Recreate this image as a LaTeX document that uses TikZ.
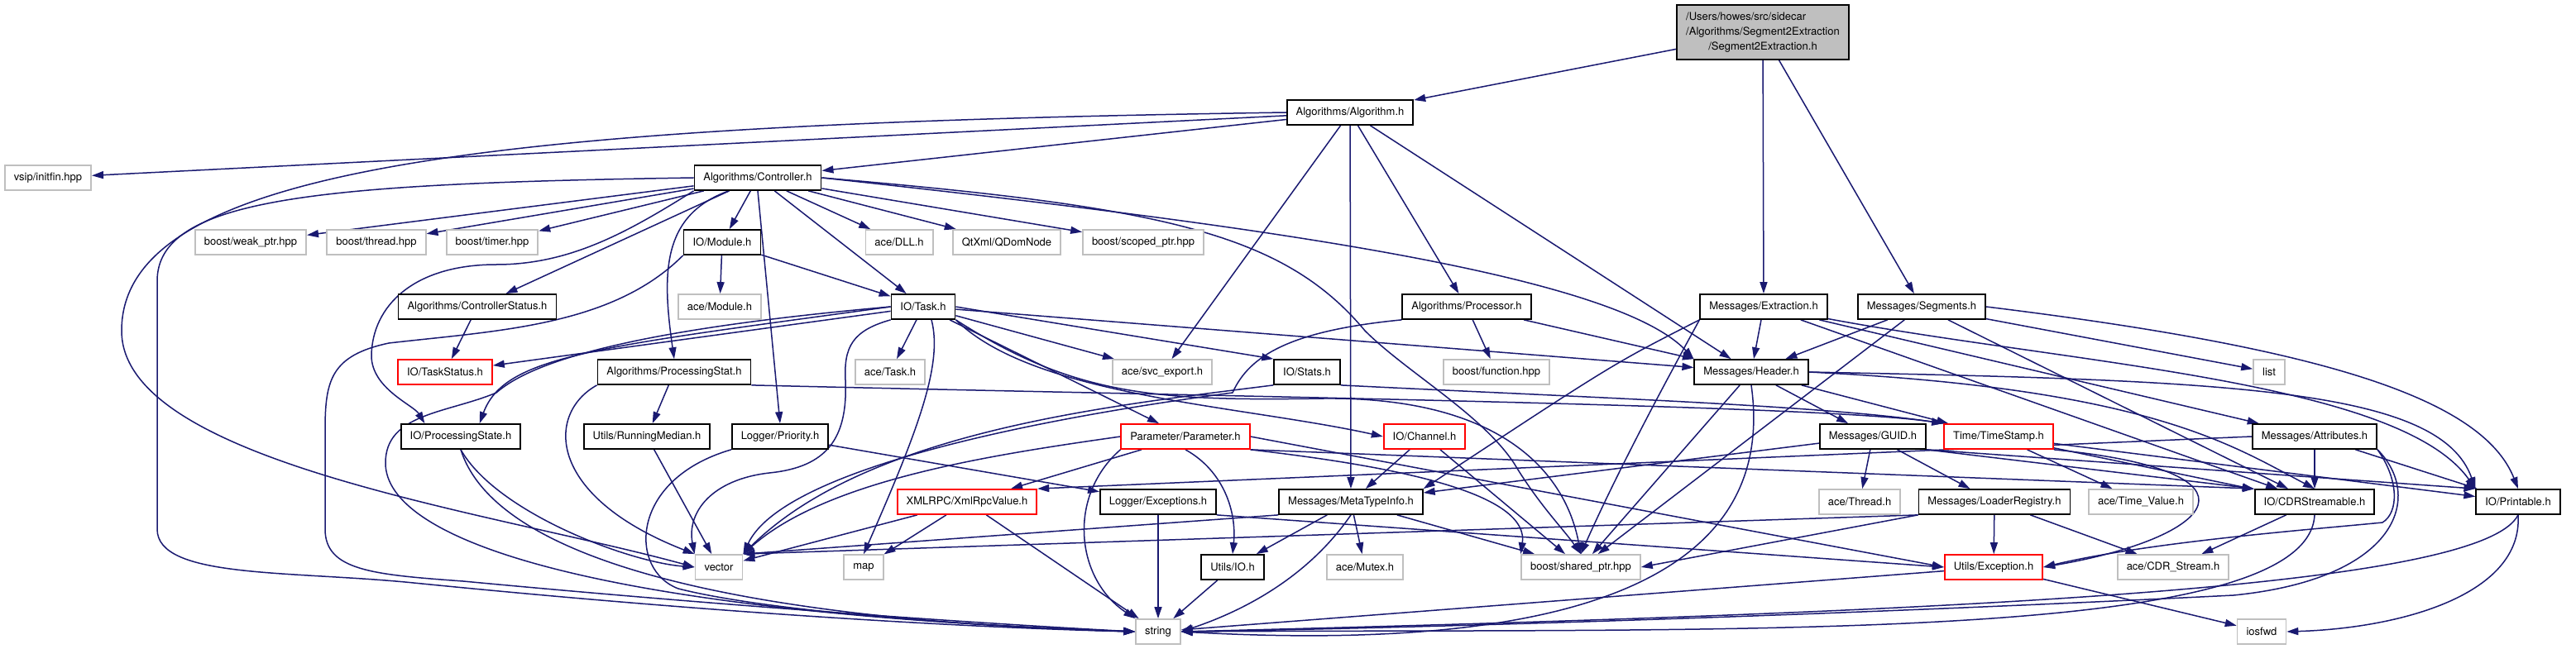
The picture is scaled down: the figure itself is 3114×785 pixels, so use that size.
\documentclass[tikz,border=0pt]{standalone}
\usepackage{fontspec}
\setmainfont{TeX Gyre Heros}
\usetikzlibrary{arrows.meta,backgrounds}
\definecolor{edgeblue}{RGB}{25,25,112}
\definecolor{extgray}{RGB}{191,191,191}

\begin{document}
\begin{tikzpicture}[
  x=0.2mm, y=-0.2mm,
  hbox/.style={draw, fill=white, line width=0.35mm, minimum height=6mm, inner ysep=0pt, inner xsep=2.2mm, font=\fontsize{7.4}{10.4}\selectfont},
  extbox/.style={hbox, draw=extgray},
  redbox/.style={hbox, draw=red},
  topbox/.style={hbox, fill=extgray, minimum height=13.2mm},
  arr/.style={draw=edgeblue, line width=0.3mm, -{Triangle[length=2.8mm,width=1.8mm]}}
]
\useasboundingbox (0,0) rectangle (3114,785);

% header files, row by row
\node[topbox] (top) at (2131,39) {\begin{tabular}{@{}l@{}}/Users/howes/src/sidecar\\/Algorithms/Segment2Extraction\\\multicolumn{1}{@{}c@{}}{/Segment2Extraction.h}\end{tabular}};
\node[hbox] (alg) at (1632,136) {Algorithms/Algorithm.h};
\node[extbox] (vsip) at (58,215) {vsip/initfin.hpp};
\node[hbox] (ctrl) at (916,215) {Algorithms/Controller.h};
\node[extbox] (weak) at (303,293) {boost/weak\_ptr.hpp};
\node[extbox] (thread) at (455,293) {boost/thread.hpp};
\node[extbox] (timer) at (595,293) {boost/timer.hpp};
\node[hbox] (module) at (873,293) {IO/Module.h};
\node[extbox] (dll) at (1087,293) {ace/DLL.h};
\node[extbox] (qdom) at (1217,293) {QtXml/QDomNode};
\node[extbox] (scoped) at (1382,293) {boost/scoped\_ptr.hpp};
\node[hbox] (ctrlstat) at (577,371) {Algorithms/ControllerStatus.h};
\node[extbox] (acemod) at (870,371) {ace/Module.h};
\node[hbox] (task) at (1116,371) {IO/Task.h};
\node[hbox] (proc) at (1773,371) {Algorithms/Processor.h};
\node[hbox] (extr) at (2132,371) {Messages/Extraction.h};
\node[hbox] (segs) at (2323,371) {Messages/Segments.h};
\node[redbox] (taskstat) at (538,450) {IO/TaskStatus.h};
\node[hbox] (pstat) at (815,450) {Algorithms/ProcessingStat.h};
\node[extbox] (acetask) at (1076,450) {ace/Task.h};
\node[extbox] (svc) at (1405,450) {ace/svc\_export.h};
\node[hbox] (stats) at (1580,450) {IO/Stats.h};
\node[extbox] (func) at (1809,450) {boost/function.hpp};
\node[hbox] (header) at (2117,450) {Messages/Header.h};
\node[extbox] (list) at (2743,450) {list};
\node[hbox] (pstate) at (557,528) {IO/ProcessingState.h};
\node[hbox] (rmed) at (782,528) {Utils/RunningMedian.h};
\node[hbox] (prio) at (943,528) {Logger/Priority.h};
\node[redbox] (param) at (1433,528) {Parameter/Parameter.h};
\node[redbox] (chan) at (1722,528) {IO/Channel.h};
\node[hbox] (guid) at (2264,528) {Messages/GUID.h};
\node[redbox] (tstamp) at (2416,528) {Time/TimeStamp.h};
\node[hbox] (attr) at (2798,528) {Messages/Attributes.h};
\node[redbox] (xml) at (1169,607) {XMLRPC/XmlRpcValue.h};
\node[hbox] (lexc) at (1400,607) {Logger/Exceptions.h};
\node[hbox] (meta) at (1633,607) {Messages/MetaTypeInfo.h};
\node[extbox] (thr) at (2248,607) {ace/Thread.h};
\node[hbox] (loader) at (2411,607) {Messages/LoaderRegistry.h};
\node[extbox] (tval) at (2588,607) {ace/Time\_Value.h};
\node[hbox] (cdr) at (2798,607) {IO/CDRStreamable.h};
\node[hbox] (print) at (3044,607) {IO/Printable.h};
\node[extbox] (vector) at (869,686) {vector};
\node[extbox] (map) at (1044,686) {map};
\node[hbox] (uio) at (1490,686) {Utils/IO.h};
\node[extbox] (mutex) at (1650,686) {ace/Mutex.h};
\node[extbox] (shptr) at (1911,686) {boost/shared\_ptr.hpp};
\node[redbox] (uexc) at (2410,686) {Utils/Exception.h};
\node[extbox] (cdrs) at (2627,686) {ace/CDR\_Stream.h};
\node[extbox] (string) at (1400,764) {string};
\node[extbox] (iosfwd) at (2734,764) {iosfwd};

\begin{scope}[on background layer]
% top file
\draw[arr] (top) -- (alg);
\draw[arr] (top) -- (extr);
\draw[arr] (top) -- (segs);
% Algorithm.h
\draw[arr] (alg) -- (vsip);
\draw[arr] (alg) -- (ctrl);
\draw[arr] (alg) -- (svc);
\draw[arr] (alg) -- (meta);
\draw[arr] (alg) -- (proc);
\draw[arr] (alg) -- (header);
\draw[arr] (alg.west) .. controls (600,150) and (147,200) .. (147,400) .. controls (147,560) and (600,620) .. (vector.west);
% Controller.h
\draw[arr] (ctrl) -- (weak);
\draw[arr] (ctrl) -- (thread);
\draw[arr] (ctrl) -- (timer);
\draw[arr] (ctrl) -- (module);
\draw[arr] (ctrl) -- (dll);
\draw[arr] (ctrl) -- (qdom);
\draw[arr] (ctrl) -- (scoped);
\draw[arr] (ctrl) -- (task);
\draw[arr] (ctrl) -- (ctrlstat);
\draw[arr] (ctrl.south) -- (prio.north);
\draw[arr] ([xshift=-7mm]ctrl.south) .. controls (800,260) and (800,330) .. (pstat.north);
\draw[arr] (ctrl.south west) .. controls (760,280) and (690,320) .. (600,320) .. controls (500,320) and (450,370) .. (449,430) .. controls (449,470) and (500,490) .. (pstate.160);
\draw[arr] (ctrl.west) .. controls (380,222) and (190,240) .. (190,340) -- (190,640) .. controls (190,700) and (350,690) .. (500,705) .. controls (900,745) and (1200,760) .. (string.west);
\draw[arr] (ctrl.east) .. controls (1500,270) and (1950,330) .. (header.north west);
\draw[arr] (ctrl.east) .. controls (1400,250) and (1550,280) .. (1650,400) .. controls (1700,450) and (1790,500) .. (1830,560) .. controls (1860,610) and (1890,640) .. (shptr.north);
% IO/Module.h
\draw[arr] (module) -- (acemod);
\draw[arr] (module) -- (task);
\draw[arr] (module.south west) .. controls (740,395) and (600,400) .. (470,415) .. controls (400,430) and (393,460) .. (393,520) -- (393,640) .. controls (393,690) and (450,695) .. (560,703) .. controls (900,735) and (1200,755) .. (string.west);
\draw[arr] (ctrlstat) -- (taskstat);
% IO/Task.h
\draw[arr] (task) -- (taskstat);
\draw[arr] (task) -- (acetask);
\draw[arr] (task) -- (param);
\draw[arr] (task) -- (svc);
\draw[arr] (task.east) -- (stats.north west);
\draw[arr] (task) -- (header);
\draw[arr] (task.west) .. controls (720,420) and (610,430) .. (pstate.35);
\draw[arr] (task.west) .. controls (750,400) and (640,440) .. (600,475) .. controls (540,500) and (466,500) .. (466,560) .. controls (466,650) and (700,740) .. (string.west);
\draw[arr] (task.south west) .. controls (1030,400) and (1020,420) .. (1022,460) .. controls (1025,530) and (1000,565) .. (930,572) .. controls (860,580) and (830,620) .. (vector.north west);
\draw[arr] ([xshift=2mm]task.south) .. controls (1140,440) and (1110,520) .. (map.north);
\draw[arr] (task.south east) .. controls (1250,480) and (1500,490) .. (chan.west);
\draw[arr] (task.south east) .. controls (1300,480) and (1400,485) .. (1600,482) .. controls (1800,480) and (1890,560) .. (shptr.north);
% Algorithms/Processor.h
\draw[arr] (proc) -- (func);
\draw[arr] (proc) -- (header);
\draw[arr] (proc.south west) .. controls (1560,400) and (1510,430) .. (1490,475) .. controls (1300,500) and (950,560) .. (vector.north east);
% Messages/Extraction.h
\draw[arr] (extr) -- (header);
\draw[arr] (extr) -- (attr);
\draw[arr] (extr) -- (cdr);
\draw[arr] (extr.south west) .. controls (1950,440) .. (meta.north east);
\draw[arr] (extr.south west) .. controls (2020,450) and (1960,560) .. (shptr.north);
\draw[arr] (extr) .. controls (2500,440) and (2900,460) .. (print.north west);
% Messages/Segments.h
\draw[arr] (segs) -- (header);
\draw[arr] (segs) -- (list);
\draw[arr] (segs) -- (cdr);
\draw[arr] (segs) -- (shptr);
\draw[arr] (segs.east) .. controls (2800,420) and (3000,480) .. (print.north);
% Algorithms/ProcessingStat.h and IO/Stats.h
\draw[arr] (pstat) -- (rmed);
\draw[arr] (pstat.south west) .. controls (660,500) and (660,600) .. (vector.north west);
\draw[arr] (pstat.south east) .. controls (1500,480) and (2200,490) .. (tstamp.north west);
\draw[arr] (stats.south east) .. controls (1900,480) and (2200,490) .. (tstamp.north west);
\draw[arr] (stats.south west) .. controls (1350,490) and (1050,520) .. (vector.north east);
% Messages/Header.h
\draw[arr] (header) -- (guid);
\draw[arr] (header) -- (tstamp);
\draw[arr] (header) -- (shptr);
\draw[arr] (header.east) .. controls (2600,470) and (2700,540) .. (cdr.north);
\draw[arr] (header.east) .. controls (2700,460) and (2950,470) .. (print.north west);
\draw[arr] (header.south) .. controls (2150,700) and (1900,790) .. (string.east);
% Parameter/Parameter.h
\draw[arr] (param) -- (xml);
\draw[arr] (param.west) .. controls (1200,550) and (1000,580) .. (vector.north east);
\draw[arr] (param.south west) .. controls (1290,600) and (1300,700) .. (string.north west);
\draw[arr] (param.south) .. controls (1480,570) and (1495,620) .. (uio.north);
\draw[arr] (param.south east) .. controls (1650,560) and (1850,590) .. (shptr.north west);
\draw[arr] (param.east) -- (uexc.west);
\draw[arr] (param.south east) -- (cdr.north west);
% IO/Channel.h
\draw[arr] (chan) -- (meta);
\draw[arr] (chan) -- (shptr);
% Messages/GUID.h
\draw[arr] (guid) -- (meta);
\draw[arr] (guid) -- (thr);
\draw[arr] (guid) -- (loader);
\draw[arr] (guid.south east) -- (cdr.north west);
\draw[arr] (guid.south east) -- (print.north west);
% Time/TimeStamp.h
\draw[arr] (tstamp) -- (tval);
\draw[arr] (tstamp) -- (cdr);
\draw[arr] (tstamp) -- (print);
\draw[arr] (tstamp.south east) .. controls (2750,570) and (2680,650) .. (uexc.east);
% Messages/Attributes.h
\draw[arr] (attr) -- (cdr);
\draw[arr] (attr) -- (print);
\draw[arr] (attr.west) -- (xml.north east);
\draw[arr] (attr.south east) .. controls (2900,580) and (2900,620) .. (2880,632) .. controls (2800,640) and (2600,655) .. (uexc.east);
\draw[arr] (attr.south east) .. controls (2930,600) and (2900,700) .. (2700,720) .. controls (2200,745) and (1700,760) .. (string.east);
% Messages/LoaderRegistry.h
\draw[arr] (loader) -- (uexc);
\draw[arr] (loader) -- (cdrs);
\draw[arr] (loader.south west) -- (shptr.east);
\draw[arr] (loader.south west) -- (vector.north east);
% Messages/MetaTypeInfo.h
\draw[arr] (meta) -- (uio);
\draw[arr] (meta) -- (mutex);
\draw[arr] (meta) -- (shptr);
\draw[arr] (meta.south west) -- (vector.north east);
\draw[arr] (meta.south) .. controls (1580,700) and (1500,740) .. (string.east);
% the rest
\draw[arr] (xml) -- (vector);
\draw[arr] (xml) -- (map);
\draw[arr] (xml) -- (string);
\draw[arr] (lexc) -- (string);
\draw[arr] (lexc.south east) -- (uexc.west);
\draw[arr] (prio) -- (lexc);
\draw[arr] (prio.south west) .. controls (760,580) and (760,690) .. (820,712) .. controls (950,745) and (1250,760) .. (string.west);
\draw[arr] (rmed) -- (vector);
\draw[arr] (pstate.south) .. controls (600,620) and (760,680) .. (vector.west);
\draw[arr] (pstate.south) .. controls (600,680) and (900,750) .. (string.west);
\draw[arr] (uio) -- (string);
\draw[arr] (uexc) -- (string);
\draw[arr] (uexc) -- (iosfwd);
\draw[arr] (cdr) -- (cdrs);
\draw[arr] (cdr.south) .. controls (2790,780) and (2100,760) .. (string.east);
\draw[arr] (print.south) .. controls (3000,710) and (2400,740) .. (string.east);
\draw[arr] (print.south) .. controls (3050,720) and (2900,760) .. (iosfwd.east);
\end{scope}
\end{tikzpicture}
\end{document}
